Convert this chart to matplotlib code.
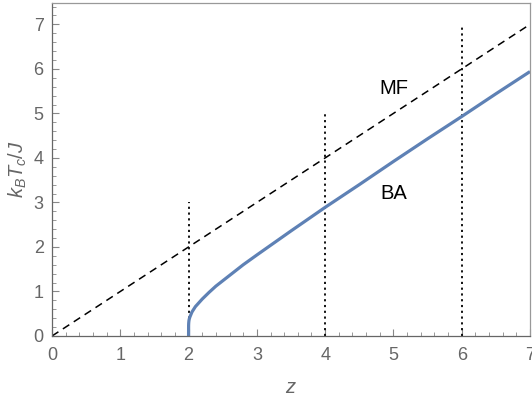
import matplotlib
matplotlib.use("Agg")
import matplotlib.pyplot as plt
from matplotlib.ticker import MultipleLocator

plt.rcParams["font.family"] = ["Liberation Sans", "DejaVu Sans"]
plt.rcParams["mathtext.fontset"] = "custom"
plt.rcParams["mathtext.it"] = "Liberation Sans:italic"
plt.rcParams["mathtext.rm"] = "Liberation Sans"

# Data
mf_z = [0, 7]
mf_t = [0, 7]
ba_z = [2.0, 2.0005, 2.002, 2.005, 2.01, 2.02, 2.05, 2.1, 2.2, 2.3, 2.4, 2.6, 2.8, 3.0, 3.5, 4.0, 4.5, 5.0, 5.5, 6.0, 6.5, 7.0]
ba_t = [0.0, 0.24, 0.29, 0.34, 0.38, 0.43, 0.54, 0.66, 0.83, 0.98, 1.12, 1.36, 1.60, 1.82, 2.36, 2.89, 3.40, 3.92, 4.43, 4.93, 5.44, 5.94]
vline_z = [2, 4, 6]
vline_top = [3, 5, 7]
labels = ["MF", "BA"]
label_pos = [(5.0, 5.57), (5.0, 3.2)]

gray = "#666666"
fig = plt.figure(figsize=(5.32, 3.96), dpi=100)
ax = fig.add_axes([52/532, 60/396, 478/532, 333/396])

ax.plot(mf_z, mf_t, color="black", lw=1.1, dashes=(5, 3.5))
for z, t in zip(vline_z, vline_top):
    ax.plot([z, z], [0, t], color="black", lw=1.3, dashes=(1.2, 2.0))
ax.plot(ba_z, ba_t, color="#5E81B5", lw=2.3, solid_capstyle="butt")

for s, (x, y) in zip(labels, label_pos):
    ax.text(x, y, s, fontsize=14.5, ha="center", va="center", color="black")

ax.set_xlim(0, 7)
ax.set_ylim(0, 7.48)
ax.xaxis.set_major_locator(MultipleLocator(1))
ax.xaxis.set_minor_locator(MultipleLocator(0.2))
ax.yaxis.set_major_locator(MultipleLocator(1))
ax.yaxis.set_minor_locator(MultipleLocator(0.2))
ax.tick_params(which="both", direction="in", colors="#888888", labelcolor=gray,
               top=False, right=False)
ax.tick_params(which="major", length=5, width=0.8, labelsize=13)
ax.tick_params(axis="x", which="major", pad=8)
ax.tick_params(axis="y", which="major", pad=6)
ax.tick_params(which="minor", length=2.8, width=0.6)
for sp in ax.spines.values():
    sp.set_color("#999999")
    sp.set_linewidth(0.9)
ax.spines["bottom"].set_color("#666666")
ax.spines["left"].set_color("#666666")

ax.set_xlabel("$z$", fontsize=14.5, color=gray, labelpad=10)
ax.set_ylabel("$k_B T_c/J$", fontsize=14.5, color=gray, labelpad=3)

fig.savefig("out.png", dpi=100)
